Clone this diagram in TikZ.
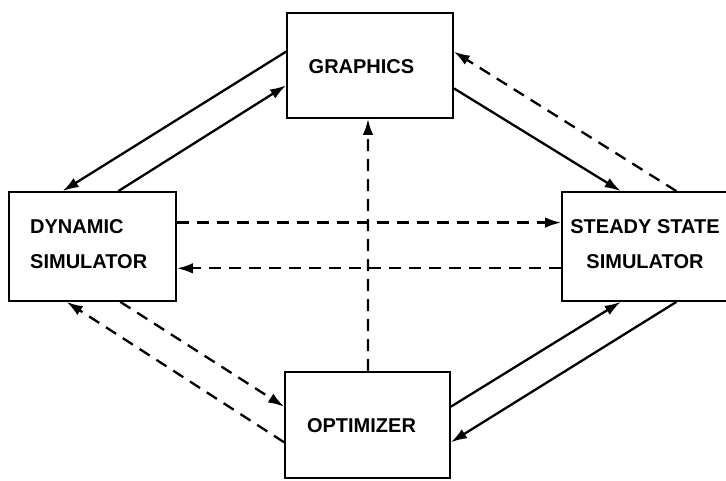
\documentclass[tikz,border=0pt]{standalone}
\usepackage{fontspec}
\setmainfont{Liberation Sans}
\usetikzlibrary{arrows.meta,calc}

\tikzset{
  block/.style={draw, line width=1.8pt, inner sep=0pt},
  caption/.style={inner sep=0pt, font=\bfseries\fontsize{20}{35}\selectfont},
  flow/.style={line width=2.3pt, -{Latex[length=16pt,width=10.5pt]}},
  flowdash/.style={flow, dash pattern=on 12pt off 8pt},
}

\begin{document}
\begin{tikzpicture}[x=1pt, y=-1pt]
  \clip (0,0) rectangle (726,480);

  % the four program blocks
  \node[block, minimum width=166pt, minimum height=105pt] (gfx) at (370,65.5) {};
  \node[block, minimum width=167pt, minimum height=109pt] (dyn) at (92.5,246.5) {};
  \node[block, minimum width=166pt, minimum height=109pt] (ss) at (645,246.5) {};
  \node[block, minimum width=165pt, minimum height=106pt] (opt) at (367.5,425) {};

  % block captions (base anchor sits on the last line)
  \node[caption, anchor=base] (gfxtext) at (361.5,73) {GRAPHICS};
  \node[caption, anchor=base west, align=left] (dyntext) at (30,268) {DYNAMIC\\SIMULATOR};
  \node[caption, anchor=base, align=center] (sstext) at (645,268) {STEADY STATE\\SIMULATOR};
  \node[caption, anchor=base] (opttext) at (361.5,432) {OPTIMIZER};

  % graphics <-> dynamic simulator
  \draw[flow] ($(gfx.north west)!0.37!(gfx.south west)$) -- ($(dyn.north west)!0.323!(dyn.north east)$);
  \draw[flow] ($(dyn.north west)!0.653!(dyn.north east)$) -- ($(gfx.north west)!0.686!(gfx.south west)$);

  % graphics <-> steady state simulator
  \draw[flow] ($(gfx.north east)!0.714!(gfx.south east)$) -- ($(ss.north west)!0.355!(ss.north east)$);
  \draw[flowdash] ($(ss.north west)!0.687!(ss.north east)$) -- ($(gfx.north east)!0.37!(gfx.south east)$);

  % dynamic <-> steady state simulator
  \draw[flowdash] ($(dyn.north east)!0.284!(dyn.south east)$) -- ($(ss.north west)!0.284!(ss.south west)$);
  \draw[flowdash] ($(ss.north west)!0.697!(ss.south west)$) -- ($(dyn.north east)!0.697!(dyn.south east)$);

  % optimizer -> graphics
  \draw[flowdash] ($(opt.north west)!0.503!(opt.north east)$) -- ($(gfx.south west)!0.488!(gfx.south east)$);

  % dynamic simulator <-> optimizer
  \draw[flowdash] ($(dyn.south west)!0.665!(dyn.south east)$) -- ($(opt.north west)!0.33!(opt.south west)$);
  \draw[flowdash] ($(opt.north west)!0.66!(opt.south west)$) -- ($(dyn.south west)!0.347!(dyn.south east)$);

  % optimizer <-> steady state simulator
  \draw[flow] ($(opt.north east)!0.33!(opt.south east)$) -- ($(ss.south west)!0.355!(ss.south east)$);
  \draw[flow] ($(ss.south west)!0.687!(ss.south east)$) -- ($(opt.north east)!0.66!(opt.south east)$);
\end{tikzpicture}
\end{document}
